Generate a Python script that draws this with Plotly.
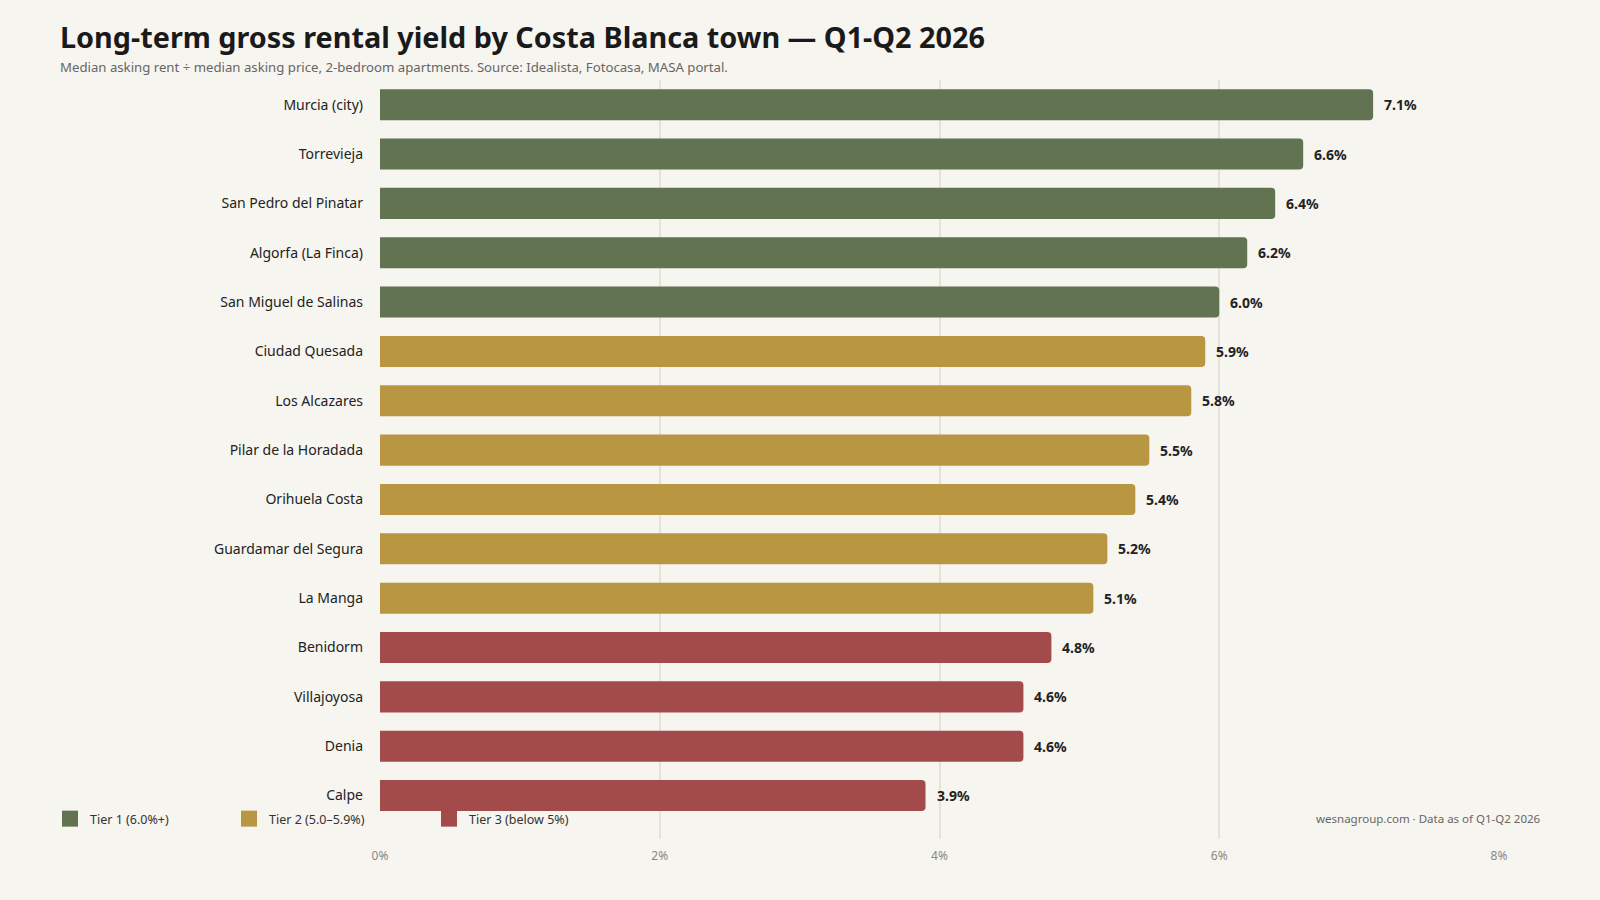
import plotly.graph_objects as go

towns = ["Murcia (city)", "Torrevieja", "San Pedro del Pinatar", "Algorfa (La Finca)",
         "San Miguel de Salinas", "Ciudad Quesada", "Los Alcazares", "Pilar de la Horadada",
         "Orihuela Costa", "Guardamar del Segura", "La Manga", "Benidorm", "Villajoyosa",
         "Denia", "Calpe"]
yields = [7.1, 6.6, 6.4, 6.2, 6.0, 5.9, 5.8, 5.5, 5.4, 5.2, 5.1, 4.8, 4.6, 4.6, 3.9]
tier_names = ["Tier 1 (6.0%+)", "Tier 2 (5.0\u20135.9%)", "Tier 3 (below 5%)"]
tier_colors = ["#617350", "#b99641", "#a34a4a"]
x_ticks = [0, 2, 4, 6, 8]
x_tick_labels = ["0%", "2%", "4%", "6%", "8%"]

def tier_of(v):
    if v >= 6.0:
        return 0
    if v >= 5.0:
        return 1
    return 2

FONT = "Noto Sans"
fig = go.Figure()
fig.add_trace(go.Bar(
    x=yields, y=towns, orientation="h",
    marker=dict(color=[tier_colors[tier_of(v)] for v in yields], line=dict(width=0)),
    width=0.63, showlegend=False, hoverinfo="x+y",
))

legend_x = [50, 229, 429]
for i, (name, col) in enumerate(zip(tier_names, tier_colors)):
    key = "legend" if i == 0 else f"legend{i+1}"
    fig.add_trace(go.Scatter(
        x=[None], y=[None], mode="markers", name=name,
        marker=dict(symbol="square", size=18, color=col),
        legend=key, showlegend=True,
    ))

for t, v in zip(towns, yields):
    fig.add_annotation(x=v, y=t, text=f"<b>{v:.1f}%</b>", showarrow=False,
                       xanchor="left", xshift=9, font=dict(family=FONT, size=14, color="#222"))

fig.add_annotation(xref="paper", yref="paper", x=-0.2878, y=1.017, xanchor="left", yanchor="middle",
                   text="Median asking rent \u00f7 median asking price, 2-bedroom apartments. Source: Idealista, Fotocasa, MASA portal.",
                   showarrow=False, font=dict(family=FONT, size=13.2, color="#666"))
fig.add_annotation(xref="paper", yref="paper", x=1.039, y=0.027, xanchor="right", yanchor="middle",
                   text="wesnagroup.com \u00b7 Data as of Q1-Q2 2026",
                   showarrow=False, font=dict(family=FONT, size=11.5, color="#666"))

legends = {}
for i, lx in enumerate(legend_x):
    key = "legend" if i == 0 else f"legend{i+1}"
    legends[key] = dict(xref="container", yref="container", x=lx / 1600, y=1 - 819 / 900,
                        xanchor="left", yanchor="middle", orientation="h",
                        bgcolor="rgba(0,0,0,0)", font=dict(family=FONT, size=12.5, color="#333"),
                        itemwidth=30)

fig.update_layout(
    width=1600, height=900,
    paper_bgcolor="#f7f5f0", plot_bgcolor="#f7f5f0",
    margin=dict(l=380, r=101, t=80, b=61, autoexpand=False),
    barcornerradius=4,
    title=dict(text="<b>Long-term gross rental yield by Costa Blanca town \u2014 Q1-Q2 2026</b>",
               xref="container", yref="container", x=60 / 1600, y=1 - 38 / 900,
               xanchor="left", yanchor="middle",
               font=dict(family=FONT, size=28.8, color="#1a1a1a")),
    xaxis=dict(range=[0, 8], tickvals=x_ticks, ticktext=x_tick_labels, showgrid=True,
               gridcolor="#e5e2da", gridwidth=1.5, zeroline=False, showline=False,
               tickfont=dict(family=FONT, size=12, color="#888"), ticks="", ticklabelstandoff=8,
               automargin=False),
    yaxis=dict(categoryorder="array", categoryarray=towns, range=[14.88, -0.5],
               showgrid=False, zeroline=False, showline=False, ticks="",
               tickfont=dict(family=FONT, size=14, color="#222"), ticklabelstandoff=16,
               automargin=False),
    font=dict(family=FONT),
    **legends,
)

fig.write_html("out.html")
